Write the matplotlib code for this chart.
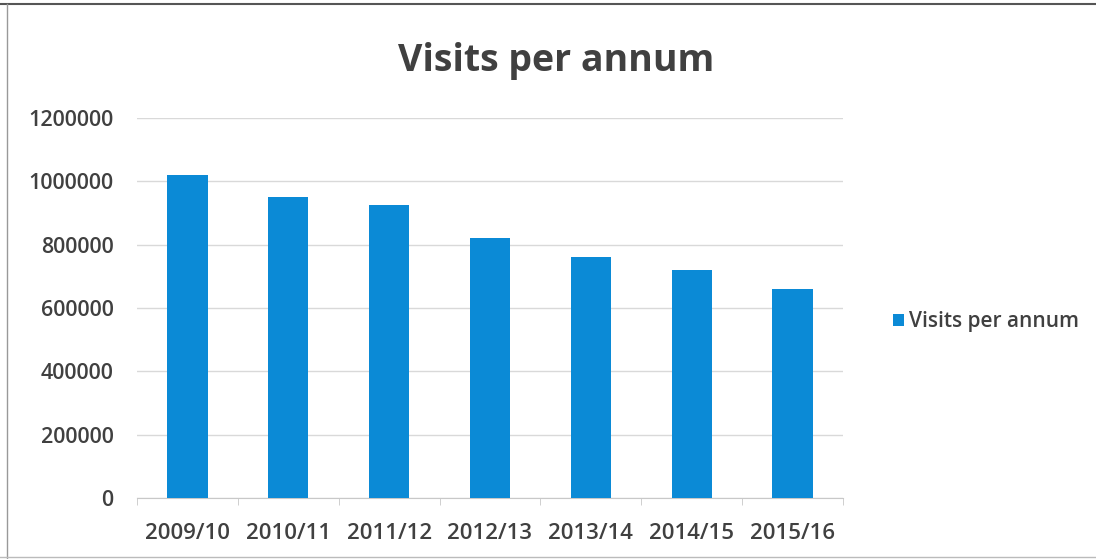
import matplotlib
matplotlib.use('Agg')
import matplotlib.pyplot as plt
from matplotlib.lines import Line2D
from matplotlib.patches import Patch

# data
years = ['2009/10', '2010/11', '2011/12', '2012/13', '2013/14', '2014/15', '2015/16']
visits = [1020000, 950000, 925000, 822000, 760000, 720000, 660000]
yticks = [0, 200000, 400000, 600000, 800000, 1000000, 1200000]

plt.rcParams['font.family'] = ['Open Sans', 'DejaVu Sans']
txt = '#404040'
bar_col = '#0b8ad6'

W, H = 1096, 559
fig = plt.figure(figsize=(W / 100, H / 100), dpi=100)
fig.patch.set_facecolor('white')

# plot area in pixels: left 137, right 843, top 118, bottom 498
ax = fig.add_axes([137 / W, 1 - 498 / H, (843 - 137) / W, (498 - 118) / H])

x = range(len(years))
ax.bar(x, visits, width=0.4, color=bar_col, zorder=3, label='Visits per annum')

ax.set_xlim(-0.5, len(years) - 0.5)
ax.set_ylim(0, 1200000)
ax.set_yticks(yticks)
ax.set_yticklabels([str(v) for v in yticks], fontsize=15.5, color=txt, fontweight='semibold')
ax.set_xticks(list(x))
ax.set_xticklabels(years, fontsize=16, color=txt, fontweight='semibold')
ax.tick_params(axis='y', length=0, pad=17)
ax.tick_params(axis='x', length=0, pad=18)

# minor ticks between categories
ax.set_xticks([i - 0.5 for i in range(len(years) + 1)], minor=True)
ax.tick_params(axis='x', which='minor', length=5, color='#c8c8c8', direction='out')

ax.grid(axis='y', color='#d9d9d9', linewidth=1, zorder=0)
for s in ['top', 'right', 'left']:
    ax.spines[s].set_visible(False)
ax.spines['bottom'].set_color('#c8c8c8')

fig.text(556 / W, 1 - 61 / H, 'Visits per annum', fontsize=27, fontweight='bold',
         color=txt, ha='center', va='center')

handles = [Patch(facecolor=bar_col, label='Visits per annum')]
fig.legend(handles=handles, loc='center left', bbox_to_anchor=(874 / W, 1 - 322 / H),
           frameon=False, handlelength=0.55, handleheight=0.55,
           handletextpad=0.25, labelcolor=txt, prop={'weight': 'semibold', 'size': 15})

# outer frame
fig.add_artist(Line2D([0, 1], [1 - 4 / H, 1 - 4 / H], color='#555555', linewidth=1.5))
fig.add_artist(Line2D([7 / W, 7 / W], [0, 1 - 4 / H], color='#999999', linewidth=1))
fig.add_artist(Line2D([0, 1], [2 / H, 2 / H], color='#bbbbbb', linewidth=1))

fig.savefig('out.png', dpi=100)
